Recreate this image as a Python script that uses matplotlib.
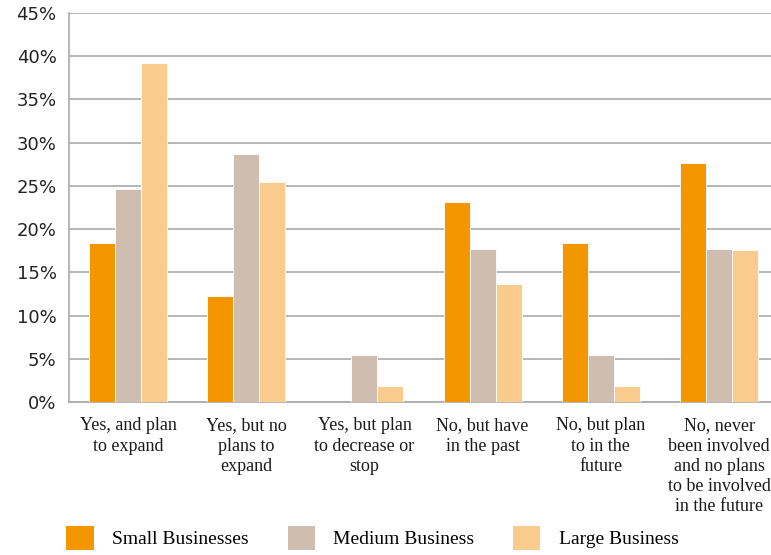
import matplotlib.pyplot as plt
import numpy as np
from matplotlib.patches import Patch

# Categories and values (percent)
categories = [
    "Yes, and plan\nto expand",
    "Yes, but no\nplans to\nexpand",
    "Yes, but plan\nto decrease or\nstop",
    "No, but have\nin the past",
    "No, but plan\nto in the\nfuture",
    "No, never\nbeen involved\nand no plans\nto be involved\nin the future",
]
small = [18.4, 12.3, 0.0, 23.1, 18.4, 27.6]
medium = [24.6, 28.7, 5.4, 17.7, 5.4, 17.7]
large = [39.2, 25.5, 1.9, 13.7, 1.9, 17.6]

series_names = ["Small Businesses", "Medium Business", "Large Business"]
colors = ["#F39600", "#CFBDB0", "#F9CB8C"]

fig = plt.figure(figsize=(7.71, 5.55), dpi=100)
ax = fig.add_axes([0.0895, 0.2757, 0.9105, 0.7009])

x = np.arange(len(categories))
w = 0.22
for i, (vals, c) in enumerate(zip([small, medium, large], colors)):
    ax.bar(x + (i - 1) * w, vals, width=w, color=c, edgecolor="white",
           linewidth=0.6, zorder=3)

ax.set_ylim(0, 45)
ax.set_xlim(-0.5, 5.44)
ax.set_yticks(np.arange(0, 46, 5))
ax.set_yticklabels([f"{v}%" for v in range(0, 46, 5)],
                   fontsize=13, color="#222222", family="DejaVu Sans")
ax.yaxis.grid(True, color="#AAAAAA", linewidth=1.2, zorder=0)
ax.set_axisbelow(True)

ax.set_xticks(x)
ax.set_xticklabels(categories, fontsize=13, family="Liberation Serif",
                   color="#1a1a1a", linespacing=1.25)
ax.tick_params(axis="both", length=0)
ax.tick_params(axis="y", pad=9)
ax.tick_params(axis="x", pad=11)

for s in ["top", "right"]:
    ax.spines[s].set_visible(False)
ax.spines["left"].set_color("#AAAAAA")
ax.spines["left"].set_linewidth(1.2)
ax.spines["bottom"].set_color("#AAAAAA")
ax.spines["bottom"].set_linewidth(1.2)

handles = [Patch(facecolor=c, edgecolor="none") for c in colors]
fig.legend(handles, series_names, loc="upper left",
           bbox_to_anchor=(0.086, 0.053), ncol=3, frameon=False,
           prop={"family": "Liberation Serif", "size": 14},
           handlelength=1.4, handleheight=1.55, handletextpad=0.95,
           columnspacing=2.0, borderpad=0, borderaxespad=0)

fig.savefig("out.png", dpi=100)
